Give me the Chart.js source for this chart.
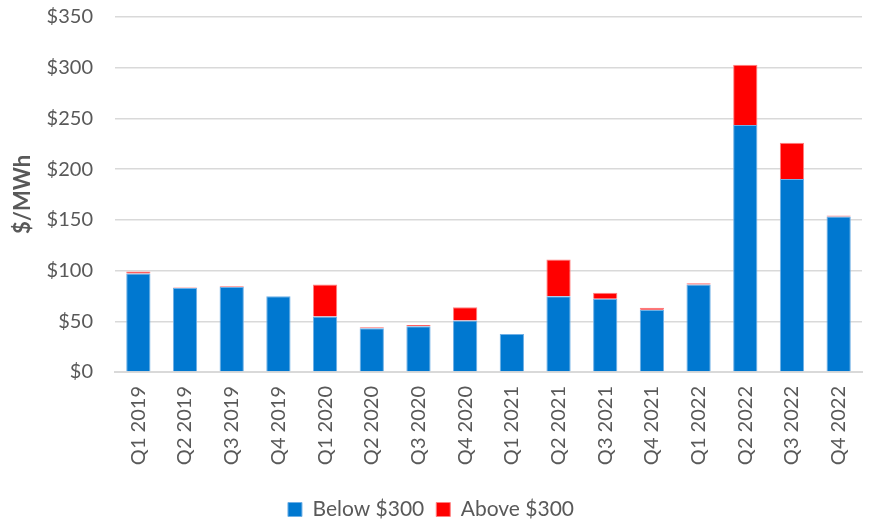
<!DOCTYPE html>
<html>
<head>
<meta charset="utf-8">
<script src="https://cdn.jsdelivr.net/npm/chart.js@4"></script>
<style>
  html, body { margin: 0; padding: 0; background: #fff; }
  #wrap { width: 869px; height: 520px; }
</style>
</head>
<body>
<div id="wrap"><canvas id="priceChart" width="869" height="520"></canvas></div>
<script>
// quarters on the x axis
const quarters = ["Q1 2019", "Q2 2019", "Q3 2019", "Q4 2019", "Q1 2020", "Q2 2020", "Q3 2020", "Q4 2020",
                  "Q1 2021", "Q2 2021", "Q3 2021", "Q4 2021", "Q1 2022", "Q2 2022", "Q3 2022", "Q4 2022"];
// $/MWh contribution below and above the $300 cap
const belowCap = [97, 82.7, 83.7, 74.8, 54.7, 43.2, 45.2, 50.8, 37.5, 74.8, 72.2, 61.3, 86.3, 243.5, 190.4, 153.2];
const aboveCap = [2, 0.7, 0.8, 0, 31.6, 1, 1.2, 13, 0, 36, 5.9, 2, 1.3, 59.3, 35.6, 1];
const yTicks = [0, 50, 100, 150, 200, 250, 300, 350];

const fontFam = "Lato, 'Open Sans', sans-serif";
const grey = "#595959";

Chart.defaults.font.family = fontFam;
Chart.defaults.color = grey;

new Chart(document.getElementById("priceChart"), {
    type: "bar",
    data: {
        labels: quarters,
        datasets: [
            {
                label: "Below $300",
                data: belowCap,
                backgroundColor: "#0078d0",
                borderColor: "#6fb0e6",
                borderWidth: 1,
                barPercentage: 0.52,
                categoryPercentage: 1
            },
            {
                label: "Above $300",
                data: aboveCap,
                backgroundColor: "#ff0000",
                borderColor: "#ff8080",
                borderWidth: 1,
                barPercentage: 0.52,
                categoryPercentage: 1
            }
        ]
    },
    options: {
        responsive: false,
        animation: false,
        layout: { padding: { top: 17, right: 7, left: 0, bottom: -10 } },
        plugins: {
            legend: {
                position: "bottom",
                labels: {
                    boxWidth: 14,
                    boxHeight: 14,
                    padding: 12,
                    color: grey,
                    font: { size: 21, family: fontFam }
                }
            },
            tooltip: { enabled: false }
        },
        scales: {
            x: {
                stacked: true,
                grid: { display: false },
                border: { color: "#d9d9d9", width: 2 },
                ticks: {
                    minRotation: 90,
                    maxRotation: 90,
                    padding: 6,
                    color: grey,
                    font: { size: 20, family: fontFam }
                },
                afterFit: function (axis) { axis.height = 115; }
            },
            y: {
                stacked: true,
                min: 0,
                max: 350,
                afterBuildTicks: function (axis) {
                    axis.ticks = yTicks.map(v => ({ value: v }));
                },
                grid: { color: "#d9d9d9", lineWidth: 1.5, drawTicks: false },
                border: { display: false },
                ticks: {
                    padding: 22,
                    color: grey,
                    font: { size: 20, family: fontFam },
                    callback: v => "$" + v
                },
                title: {
                    display: true,
                    text: "$/MWh",
                    color: grey,
                    padding: { top: 10, bottom: 0 },
                    font: { size: 22, weight: "bold", family: fontFam }
                },
                afterFit: function (axis) {
                    axis.width = 115;
                    // keep the plot top at the $350 line, labels may spill into the margin
                    axis.paddingTop = 0;
                    axis.paddingBottom = 0;
                }
            }
        }
    }
});
</script>
</body>
</html>
